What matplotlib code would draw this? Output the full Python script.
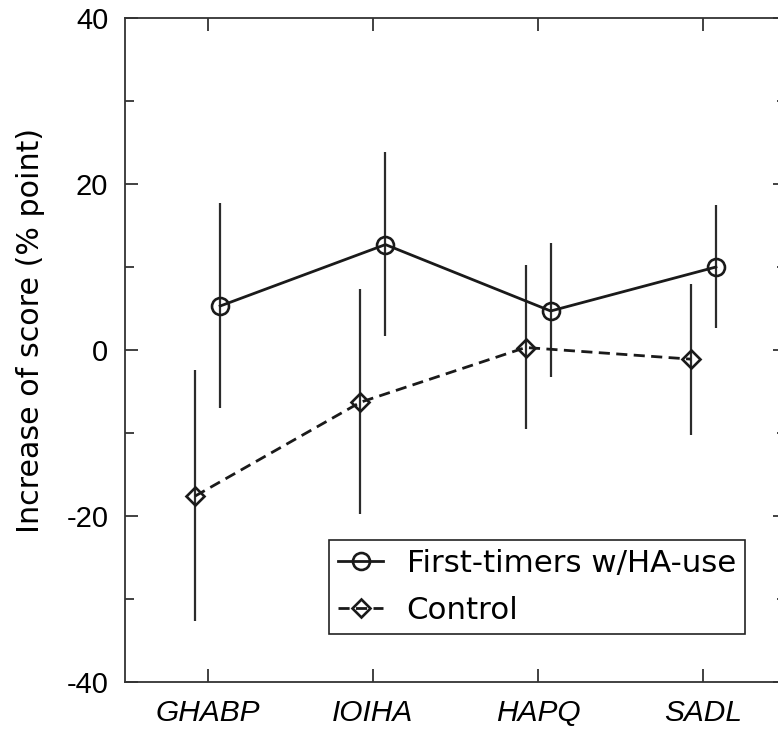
import matplotlib
matplotlib.use("Agg")
import matplotlib.pyplot as plt
from matplotlib import font_manager as fm_
import numpy as np

categories = ["GHABP", "IOIHA", "HAPQ", "SADL"]
first_mean = [5.3, 12.7, 4.7, 10.0]
first_low = [-7.0, 1.7, -3.2, 2.6]
first_high = [17.7, 23.8, 12.9, 17.5]
ctrl_mean = [-17.6, -6.3, 0.3, -1.1]
ctrl_low = [-32.7, -19.8, -9.5, -10.2]
ctrl_high = [-2.4, 7.3, 10.2, 8.0]
yticks = [-40, -20, 0, 20, 40]
series_labels = ["First-timers w/HA-use", "Control"]
ylabel = "Increase of score (% point)"

plt.rcParams["font.family"] = ["Liberation Sans", "DejaVu Sans"]

fig = plt.figure(figsize=(7.78, 7.31), dpi=100)
ax = fig.add_axes([0.16067, 0.06703, 0.84961, 0.90834])

x = np.arange(1, len(categories) + 1)
off = 0.076
xf = x + off
xc = x - off

fm = np.array(first_mean); cm = np.array(ctrl_mean)
ferr = [fm - np.array(first_low), np.array(first_high) - fm]
cerr = [cm - np.array(ctrl_low), np.array(ctrl_high) - cm]

ax.errorbar(xf, fm, yerr=ferr, fmt="none", ecolor="#2b2b2b", elinewidth=1.6, capsize=0, zorder=2)
ax.errorbar(xc, cm, yerr=cerr, fmt="none", ecolor="#2b2b2b", elinewidth=1.6, capsize=0, zorder=2)

ax.plot(xf, fm, color="#1a1a1a", lw=2.0, marker="o", ms=12.2, mfc="none",
        mec="#1a1a1a", mew=1.9, label=series_labels[0], zorder=3)
ax.plot(xc, cm, color="#1a1a1a", lw=2.0, ls=(0, (4.0, 2.3)), marker="D", ms=8.8, mfc="none",
        mec="#1a1a1a", mew=1.9, label=series_labels[1], zorder=3)

ax.set_xlim(0.5, 4.5)
ax.set_ylim(-40, 40)
ax.set_xticks(x)
ax.set_xticks([], minor=True)
ax.set_yticks(yticks)
ax.set_yticks(np.arange(-30, 40, 20), minor=True)

tick_font = fm_.FontProperties(family="Liberation Sans", size=21)
xtick_font = fm_.FontProperties(family="Liberation Sans", size=21.5, style="italic")

ax.tick_params(axis="both", which="major", direction="in", length=9.6, width=1.3,
               color="#333333", top=True, right=True)
ax.tick_params(axis="y", which="minor", direction="in", length=6.7, width=1.3,
               color="#333333", left=True, right=True)
ax.tick_params(axis="y", which="major", pad=12)
ax.tick_params(axis="x", which="major", pad=12)

ax.set_xticklabels(categories)
ax.set_yticklabels([str(v) for v in yticks])
for lab in ax.get_xticklabels():
    lab.set_fontproperties(xtick_font)
for lab in ax.get_yticklabels():
    lab.set_fontproperties(tick_font)

for s in ax.spines.values():
    s.set_linewidth(1.3)
    s.set_color("#333333")

ax.set_ylabel(ylabel, fontproperties=fm_.FontProperties(family="DejaVu Sans", size=21.7))
ax.yaxis.set_label_coords(-0.121, 0.53)

leg = ax.legend(loc="lower right", bbox_to_anchor=(0.938, 0.0723),
                prop=fm_.FontProperties(family="DejaVu Sans", size=22.2),
                frameon=True, fancybox=False, framealpha=1, edgecolor="#222222",
                handlelength=1.46, handletextpad=0.76, borderpad=0.3, labelspacing=0.58,
                borderaxespad=0)
leg.get_frame().set_linewidth(1.2)

fig.savefig("out.png", dpi=100)
